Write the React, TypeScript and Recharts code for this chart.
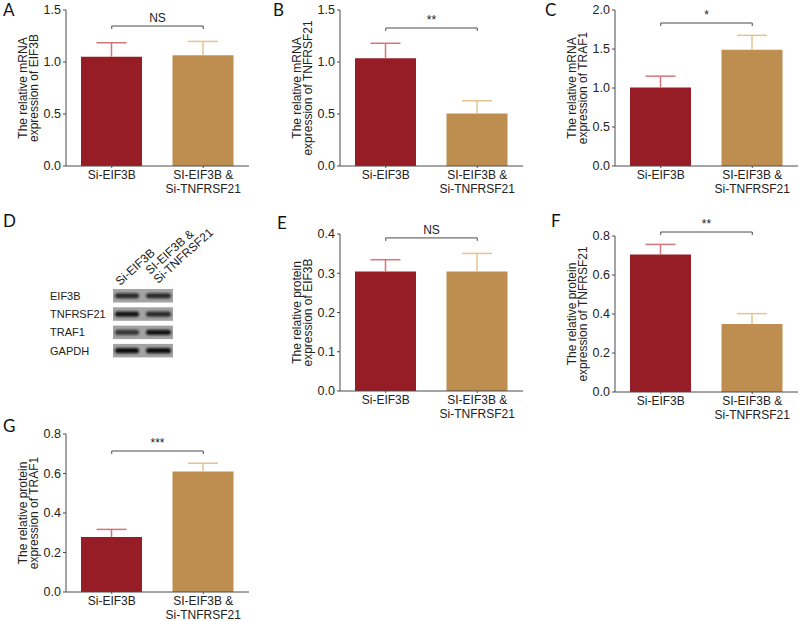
import React from "react";
import { Bar, BarChart, Cell, ErrorBar, ReferenceLine, XAxis, YAxis } from "recharts";

// two groups shared by every panel
const groups = ["Si-EIF3B", "SI-EIF3B & Si-TNFRSF21"];

// A-C: relative mRNA expression (mean, SD above)
const mrnaEif3b = [1.05, 1.065];
const mrnaEif3bErr = [0.135, 0.133];
const mrnaTnfrsf21 = [1.036, 0.505];
const mrnaTnfrsf21Err = [0.144, 0.122];
const mrnaTraf1 = [1.006, 1.49];
const mrnaTraf1Err = [0.146, 0.185];

// E-G: relative protein expression
const protEif3b = [0.3045, 0.3045];
const protEif3bErr = [0.03, 0.046];
const protTnfrsf21 = [0.705, 0.349];
const protTnfrsf21Err = [0.052, 0.053];
const protTraf1 = [0.278, 0.61];
const protTraf1Err = [0.039, 0.042];

const ticks15 = [0, 0.5, 1.0, 1.5];
const ticks20 = [0, 0.5, 1.0, 1.5, 2.0];
const ticks04 = [0, 0.1, 0.2, 0.3, 0.4];
const ticks08 = [0, 0.2, 0.4, 0.6, 0.8];

// significance marks and bracket heights (data units)
const sigLabels = ["NS", "**", "*", "NS", "**", "***"];
const bracketLevels = [1.346, 1.327, 1.833, 0.39, 0.8205, 0.714];

// western blot (panel D)
const blotRows = ["EIF3B", "TNFRSF21", "TRAF1", "GAPDH"];
const blotIntensity = [
  [0.82, 0.82],
  [0.95, 0.8],
  [0.72, 0.95],
  [1, 1],
];

const RED = "#961d26";
const TAN = "#be8e50";
const RED_ERR = "#d4757a";
const TAN_ERR = "#e6c38e";
const AXIS = "#4a4a4a";
const FONT = "'Liberation Sans', Arial, sans-serif";
const TOP = 22; // room above the plot for the bracket label

function rows(means: number[], errs: number[]) {
  return groups.map((g, i) => ({
    group: g,
    mean: means[i],
    errSi: i === 0 ? [0, errs[i]] : undefined,
    errCo: i === 1 ? [0, errs[i]] : undefined,
  }));
}

function GroupTick(props: any) {
  const { x, y, payload } = props;
  const parts = String(payload.value).split(" & ");
  const lines = parts.length > 1 ? [parts[0] + " &", parts[1]] : parts;
  return (
    <text x={x} y={y} textAnchor="middle" fontSize={12} fill="#222" fontFamily={FONT}>
      {lines.map((l, i) => (
        <tspan key={i} x={x} dy={i === 0 ? "0.71em" : "1.22em"}>
          {l}
        </tspan>
      ))}
    </text>
  );
}

function YTitle(props: any) {
  const { viewBox, lines } = props;
  const axisX = viewBox.x + viewBox.width;
  const cy = viewBox.y + viewBox.height / 2;
  return (
    <g>
      {lines.map((l: string, i: number) => (
        <text
          key={i}
          x={0}
          y={0}
          transform={`translate(${axisX - 43 + i * 11}, ${cy}) rotate(-90)`}
          textAnchor="middle"
          dominantBaseline="central"
          fontSize={12}
          fill="#222"
          fontFamily={FONT}
        >
          {l}
        </text>
      ))}
    </g>
  );
}

interface PanelProps {
  letter: string;
  letterX: number;
  letterY: number;
  plotX: number;
  plotY: number;
  plotH: number;
  means: number[];
  errs: number[];
  ticks: number[];
  yTitle: string[];
  sig: string;
  bracket: number;
}

function Panel(p: PanelProps) {
  const data = rows(p.means, p.errs);
  const yMax = p.ticks[p.ticks.length - 1];
  const drop = (3 / p.plotH) * yMax;
  return (
    <>
      <div
        style={{
          position: "absolute",
          left: p.letterX,
          top: p.letterY,
          fontFamily: "Lato, sans-serif",
          fontSize: 17,
          lineHeight: 1,
          color: "#111",
        }}
      >
        {p.letter}
      </div>
      <div style={{ position: "absolute", left: p.plotX - 66, top: p.plotY - TOP }}>
        <BarChart
          width={255}
          height={TOP + p.plotH + 34}
          data={data}
          margin={{ top: TOP, right: 6, bottom: 0, left: 22 }}
        >
          <YAxis
            width={44}
            domain={[0, yMax]}
            ticks={p.ticks}
            tickFormatter={(v: number) => v.toFixed(1)}
            tick={{ fontSize: 12.5, fill: "#222", fontFamily: FONT }}
            tickSize={3}
            tickMargin={2}
            stroke={AXIS}
            tickLine={{ stroke: AXIS }}
            axisLine={{ stroke: AXIS }}
            allowDataOverflow
            label={<YTitle lines={p.yTitle} />}
          />
          <XAxis
            dataKey="group"
            height={34}
            tick={<GroupTick />}
            tickSize={2}
            tickMargin={2}
            interval={0}
            stroke={AXIS}
            axisLine={{ stroke: AXIS }}
            tickLine={{ stroke: AXIS }}
          />
          <Bar dataKey="mean" barSize={61} isAnimationActive={false}>
            {data.map((_, i) => (
              <Cell key={i} fill={i === 0 ? RED : TAN} />
            ))}
            <ErrorBar dataKey="errSi" width={15} stroke={RED_ERR} strokeWidth={1.5} isAnimationActive={false} />
            <ErrorBar dataKey="errCo" width={15} stroke={TAN_ERR} strokeWidth={1.5} isAnimationActive={false} />
          </Bar>
          <ReferenceLine
            segment={[
              { x: groups[0], y: p.bracket },
              { x: groups[1], y: p.bracket },
            ]}
            stroke={AXIS}
            strokeWidth={1}
            ifOverflow="visible"
            label={{ value: p.sig, position: "top", offset: 4, fontSize: 12, fill: "#222", fontFamily: FONT }}
          />
          <ReferenceLine
            segment={[
              { x: groups[0], y: p.bracket },
              { x: groups[0], y: p.bracket - drop },
            ]}
            stroke={AXIS}
            strokeWidth={1}
            ifOverflow="visible"
          />
          <ReferenceLine
            segment={[
              { x: groups[1], y: p.bracket },
              { x: groups[1], y: p.bracket - drop },
            ]}
            stroke={AXIS}
            strokeWidth={1}
            ifOverflow="visible"
          />
        </BarChart>
      </div>
    </>
  );
}

function Blot() {
  const stripTop = 89;
  const stripGap = 18.3;
  const stripH = 13.5;
  return (
    <>
      <div
        style={{
          position: "absolute",
          left: 3,
          top: 212,
          fontFamily: "Lato, sans-serif",
          fontSize: 17,
          lineHeight: 1,
          color: "#111",
        }}
      >
        D
      </div>
      <svg width={260} height={200} style={{ position: "absolute", left: 0, top: 200 }}>
        <defs>
          <filter id="blur" x="-20%" y="-50%" width="140%" height="200%">
            <feGaussianBlur stdDeviation="0.9" />
          </filter>
        </defs>
        <text x={0} y={0} transform="translate(120, 86) rotate(-42)" fontSize={12} fill="#222" fontFamily={FONT}>
          Si-EIF3B
        </text>
        <text x={0} y={0} transform="translate(150, 75) rotate(-42)" fontSize={12} fill="#222" fontFamily={FONT}>
          SI-EIF3B &amp;
        </text>
        <text x={0} y={0} transform="translate(158, 84) rotate(-42)" fontSize={12} fill="#222" fontFamily={FONT}>
          Si-TNFRSF21
        </text>
        {blotRows.map((r, i) => {
          const top = stripTop + i * stripGap;
          const cy = top + stripH / 2;
          return (
            <g key={r}>
              <text x={50} y={cy} dominantBaseline="central" fontSize={11} fill="#222" fontFamily={FONT}>
                {r}
              </text>
              <rect x={113} y={top} width={60} height={stripH} fill="#a3a3a3" />
              {blotIntensity[i].map((v, j) => (
                <rect
                  key={j}
                  x={j === 0 ? 115 : 146}
                  y={cy - 2.6}
                  width={j === 0 ? 24 : 25}
                  height={5.2}
                  rx={2.5}
                  fill="#111"
                  opacity={v}
                  filter="url(#blur)"
                />
              ))}
            </g>
          );
        })}
      </svg>
    </>
  );
}

export default function App() {
  return (
    <div
      style={{
        position: "absolute",
        left: 0,
        top: 0,
        width: 800,
        height: 621,
        overflow: "hidden",
        background: "#fff",
        fontFamily: FONT,
      }}
    >
      {/* error bars are one-sided: hide the lower cap that sits on the bar top */}
      <style>{".recharts-errorBar line:nth-of-type(3){display:none}"}</style>
      <Panel
        letter="A" letterX={3} letterY={1}
        plotX={66} plotY={10} plotH={156}
        means={mrnaEif3b} errs={mrnaEif3bErr} ticks={ticks15}
        yTitle={["The relative mRNA", "expression of EIF3B"]}
        sig={sigLabels[0]} bracket={bracketLevels[0]}
      />
      <Panel
        letter="B" letterX={273} letterY={1}
        plotX={340} plotY={10} plotH={156}
        means={mrnaTnfrsf21} errs={mrnaTnfrsf21Err} ticks={ticks15}
        yTitle={["The relative mRNA", "expression of TNFRSF21"]}
        sig={sigLabels[1]} bracket={bracketLevels[1]}
      />
      <Panel
        letter="C" letterX={545} letterY={1}
        plotX={615} plotY={10} plotH={156}
        means={mrnaTraf1} errs={mrnaTraf1Err} ticks={ticks20}
        yTitle={["The relative mRNA", "expression of TRAF1"]}
        sig={sigLabels[2]} bracket={bracketLevels[2]}
      />
      <Blot />
      <Panel
        letter="E" letterX={277} letterY={214}
        plotX={340} plotY={234} plotH={157}
        means={protEif3b} errs={protEif3bErr} ticks={ticks04}
        yTitle={["The relative protein", "expression of EIF3B"]}
        sig={sigLabels[3]} bracket={bracketLevels[3]}
      />
      <Panel
        letter="F" letterX={551} letterY={212}
        plotX={615} plotY={236} plotH={156}
        means={protTnfrsf21} errs={protTnfrsf21Err} ticks={ticks08}
        yTitle={["The relative protein", "expression of TNFRSF21"]}
        sig={sigLabels[4]} bracket={bracketLevels[4]}
      />
      <Panel
        letter="G" letterX={3} letterY={417}
        plotX={66} plotY={434} plotH={158}
        means={protTraf1} errs={protTraf1Err} ticks={ticks08}
        yTitle={["The relative protein", "expression of TRAF1"]}
        sig={sigLabels[5]} bracket={bracketLevels[5]}
      />
    </div>
  );
}
